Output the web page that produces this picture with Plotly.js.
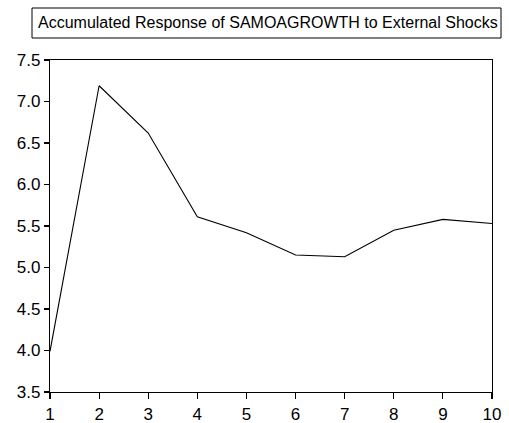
<!DOCTYPE html>
<html>
<head>
<meta charset="utf-8">
<script src="https://cdn.plot.ly/plotly-3.0.1.min.js"></script>
<style>html,body{margin:0;padding:0;background:#fff;}#chart{width:509px;height:423px;}</style>
</head>
<body>
<div id="chart"></div>
<script>
const periods = [1, 2, 3, 4, 5, 6, 7, 8, 9, 10];
const response = [3.99, 7.19, 6.62, 5.61, 5.42, 5.15, 5.13, 5.45, 5.58, 5.53];
const yTicks = [3.5, 4.0, 4.5, 5.0, 5.5, 6.0, 6.5, 7.0, 7.5];
const yTickLabels = ["3.5", "4.0", "4.5", "5.0", "5.5", "6.0", "6.5", "7.0", "7.5"];
const titleText = "Accumulated Response of SAMOAGROWTH to External Shocks";

const L = 50, R = 17, T = 60, B = 31, W = 509, H = 423;
const pw = W - L - R, ph = H - T - B;
const px = x => (x - L) / pw;
const py = y => (H - B - y) / ph;

const trace = {
  x: periods, y: response, type: 'scatter', mode: 'lines',
  line: {color: '#000', width: 1.1}, hoverinfo: 'skip'
};
const layout = {
  width: W, height: H,
  margin: {l: L, r: R, t: T, b: B, pad: 0},
  paper_bgcolor: '#fff', plot_bgcolor: '#fff',
  showlegend: false,
  font: {family: 'Liberation Sans, Arial, sans-serif', color: '#000', size: 17},
  xaxis: {
    range: [1, 10], tickvals: periods, ticktext: periods.map(String),
    ticks: 'outside', ticklen: 6, tickwidth: 1.2, tickcolor: '#000',
    showline: true, linecolor: '#000', linewidth: 1.2, mirror: true,
    showgrid: false, zeroline: false, tickfont: {size: 17}
  },
  yaxis: {
    range: [3.5, 7.5], tickvals: yTicks, ticktext: yTickLabels,
    ticks: 'outside', ticklen: 5, tickwidth: 1.2, tickcolor: '#000',
    showline: true, linecolor: '#000', linewidth: 1.2, mirror: true,
    showgrid: false, zeroline: false, tickfont: {size: 17}
  },
  shapes: [{
    type: 'rect', xref: 'paper', yref: 'paper',
    x0: px(32), x1: px(501), y0: py(38), y1: py(8),
    line: {color: '#000', width: 1}, fillcolor: 'rgba(0,0,0,0)'
  }],
  annotations: [{
    xref: 'paper', yref: 'paper', x: px(268), y: py(23),
    xanchor: 'center', yanchor: 'middle', showarrow: false,
    text: titleText, font: {size: 16, color: '#000'}
  }]
};
Plotly.newPlot('chart', [trace], layout, {staticPlot: true, displayModeBar: false});
</script>
</body>
</html>
